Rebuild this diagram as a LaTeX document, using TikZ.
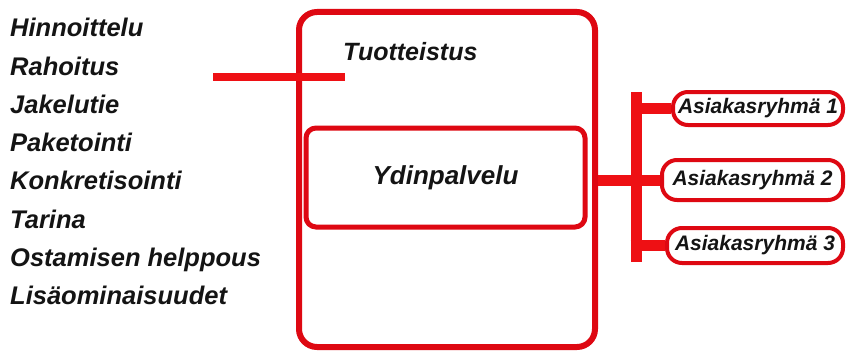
\documentclass[tikz,border=0pt]{standalone}
\usepackage{fontspec}
\setmainfont{Liberation Sans}
\definecolor{boxred}{RGB}{222,8,18}
\definecolor{linered}{RGB}{238,16,20}
\definecolor{txt}{RGB}{20,20,20}
\begin{document}
\begin{tikzpicture}[x=1pt,y=-1pt,
  listitem/.style={anchor=base west,inner sep=0pt,text=txt,font=\fontsize{25.5}{30}\selectfont\bfseries\itshape},
  titletext/.style={anchor=base west,inner sep=0pt,text=txt,font=\fontsize{25}{30}\selectfont\bfseries\itshape},
  outerbox/.style={draw=boxred,line width=6pt,rounded corners=18pt,minimum width=296pt,minimum height=335pt,inner sep=0pt},
  corebox/.style={draw=boxred,line width=5pt,rounded corners=10pt,minimum width=279pt,minimum height=99pt,inner sep=0pt,text=txt,font=\fontsize{26}{30}\selectfont\bfseries\itshape},
  pill/.style={draw=boxred,line width=4pt,rounded corners=15pt,inner sep=0pt,text=txt,font=\fontsize{21}{25}\selectfont\bfseries\itshape},
  thinconn/.style={draw=linered,line width=8pt},
  thickconn/.style={draw=linered,line width=11pt}
]
\useasboundingbox (0,0) rectangle (846,353);
\fill[white] (0,0) rectangle (846,353);

% left list
\foreach \t [count=\i] in {Hinnoittelu,Rahoitus,Jakelutie,Paketointi,Konkretisointi,Tarina,Ostamisen helppous,Lisäominaisuudet}{
  \node[listitem] (l\i) at (10,{36.7+38.3*(\i-1)}) {\t};
}

% boxes
\node[outerbox] (outer) at (447,179.5) {};
\node[corebox] (core) at (445.5,177.5) {Ydinpalvelu};
\node[titletext] (title) at (343,60) {Tuotteistus};

% left connector
\coordinate (lstart) at (213,77);
\coordinate (lend) at (345,77);
\draw[thinconn] (lstart) -- (lend);

% customer groups
\node[pill,minimum width=170pt,minimum height=33pt] (g1) at (758,108.5) {Asiakasryhmä 1};
\node[pill,minimum width=181pt,minimum height=40pt] (g2) at (752.5,180) {Asiakasryhmä 2};
\node[pill,minimum width=176pt,minimum height=35pt] (g3) at (755,245.5) {Asiakasryhmä 3};

% right connectors
\coordinate (bartop) at (636,92);
\coordinate (barbot) at (636,262);
\draw[thickconn] (bartop) -- (barbot);
\draw[thickconn] (outer.east |- g2) -- (bartop |- g2);
\draw[thickconn] (bartop |- g1) -- (g1.west);
\draw[thickconn] (bartop |- g2) -- (g2.west);
\draw[thickconn] ([xshift=-5.5pt]bartop |- g3) -- (g3.west);
\end{tikzpicture}
\end{document}
